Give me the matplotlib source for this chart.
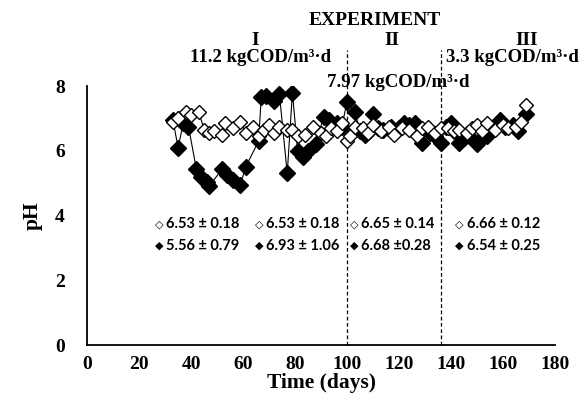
import matplotlib
matplotlib.use('Agg')
import matplotlib.pyplot as plt

# filled diamonds
days_f = [33, 35, 37, 39, 42, 44, 46, 47, 52, 54, 56, 59, 61, 66, 67, 69, 72, 74, 77, 79,
          81, 83, 85, 88, 91, 93, 96, 98, 100, 103, 105, 107, 109, 110, 112, 114, 117, 120,
          122, 124, 126, 129, 132, 134, 136, 138, 140, 142, 143, 145, 147, 150, 152, 154,
          156, 159, 161, 164, 166, 169]
ph_f = [6.95, 6.10, 6.85, 6.75, 5.45, 5.20, 5.05, 4.90, 5.45, 5.25, 5.10, 4.95, 5.50, 6.30,
        7.65, 7.70, 7.55, 7.75, 5.30, 7.80, 6.00, 5.80, 6.00, 6.20, 7.05, 6.95, 6.85, 6.75,
        7.50, 7.20, 6.60, 6.50, 6.65, 7.15, 6.70, 6.65, 6.75, 6.70, 6.85, 6.80, 6.85, 6.25,
        6.55, 6.45, 6.25, 6.75, 6.85, 6.55, 6.25, 6.40, 6.45, 6.20, 6.40, 6.45, 6.70, 6.95,
        6.75, 6.80, 6.60, 7.15]

# open diamonds
days_o = [33, 35, 38, 40, 43, 45, 47, 49, 52, 53, 56, 59, 61, 64, 66, 68, 70, 72, 74, 77,
          79, 81, 84, 87, 90, 92, 94, 96, 98, 100, 101, 103, 106, 108, 110, 113, 116, 118,
          121, 124, 127, 129, 131, 134, 136, 139, 141, 143, 146, 148, 150, 152, 154, 157,
          160, 162, 165, 167, 169]
ph_o = [6.90, 7.00, 7.20, 7.10, 7.20, 6.65, 6.55, 6.60, 6.50, 6.85, 6.70, 6.90, 6.55, 6.75,
        6.45, 6.65, 6.80, 6.55, 6.75, 6.65, 6.65, 6.45, 6.50, 6.75, 6.55, 6.45, 6.70, 6.60,
        6.85, 6.30, 6.45, 6.75, 6.70, 6.55, 6.80, 6.60, 6.75, 6.50, 6.70, 6.65, 6.45, 6.70,
        6.75, 6.55, 6.70, 6.70, 6.60, 6.65, 6.55, 6.70, 6.80, 6.60, 6.85, 6.65, 6.80, 6.70,
        6.75, 6.90, 7.40]

phase_bounds = [100, 136]
phase_names = ['I', 'II', 'III']
phase_x = [64.6, 117.3, 169.2]
loads = ['11.2 kgCOD/m³·d', '7.97 kgCOD/m³·d', '3.3 kgCOD/m³·d']
load_x = [66.9, 119.7, 163.5]
load_y = [8.74, 7.96, 8.74]
stats_open = ['6.53 ± 0.18', '6.53 ± 0.18', '6.65 ± 0.14', '6.66 ± 0.12']
stats_fill = ['5.56 ± 0.79', '6.93 ± 1.06', '6.68 ±0.28', '6.54 ± 0.25']
stats_x = [26, 64.5, 101, 141.5]

plt.rcParams['font.family'] = 'Liberation Serif'
plt.rcParams['font.weight'] = 'bold'

fig = plt.figure(figsize=(5.81, 4.04), dpi=100)
ax = fig.add_axes([0.15, 0.146, 0.805, 0.641])

ax.plot(days_f, ph_f, color='black', lw=0.8, marker='D', markersize=8,
        markerfacecolor='black', markeredgecolor='black', zorder=3)
ax.plot(days_o, ph_o, color='black', lw=0.8, marker='D', markersize=7.5,
        markerfacecolor='white', markeredgecolor='black', markeredgewidth=1.0, zorder=4)

for b in phase_bounds:
    ax.plot([b, b], [0, 9.1], color='black', lw=0.9, ls=(0, (3, 2)), clip_on=False, zorder=1)

ax.set_xlim(0, 180)
ax.set_ylim(0, 8)
ax.set_xticks(range(0, 181, 20))
ax.set_yticks(range(0, 9, 2))
ax.tick_params(length=0, labelsize=14)
ax.tick_params(axis='x', pad=8)
ax.tick_params(axis='y', pad=16)
for lab in ax.get_xticklabels() + ax.get_yticklabels():
    lab.set_fontweight('bold')
ax.spines['top'].set_visible(False)
ax.spines['right'].set_visible(False)
ax.spines['left'].set_linewidth(1.3)
ax.spines['bottom'].set_linewidth(1.3)
ax.set_xlabel('Time (days)', fontsize=15.5, fontweight='bold', labelpad=0)
ax.set_ylabel('pH', fontsize=15.5, fontweight='bold', labelpad=9)

ax.text(110.8, 9.88, 'EXPERIMENT', fontsize=14, fontweight='bold', ha='center',
        va='baseline', clip_on=False)
for name, xp in zip(phase_names, phase_x):
    ax.text(xp, 9.27, name, fontsize=14, fontweight='bold', ha='center', va='baseline',
            clip_on=False)
for lab, xp, yp in zip(loads, load_x, load_y):
    ax.text(xp, yp, lab, fontsize=13.5, fontweight='bold', ha='center', va='baseline',
            clip_on=False)

for xs, so, sf in zip(stats_x, stats_open, stats_fill):
    ax.text(xs, 3.73, '◇', fontsize=8, fontweight='bold', ha='left', va='center',
            family=['DejaVu Sans'])
    ax.text(xs + 4.5, 3.73, so, fontsize=10.5, fontweight='bold', ha='left', va='center',
            family=['Lato', 'DejaVu Sans'])
    ax.text(xs, 3.06, '◆', fontsize=8, fontweight='bold', ha='left', va='center',
            family=['DejaVu Sans'])
    ax.text(xs + 4.5, 3.06, sf, fontsize=10.5, fontweight='bold', ha='left', va='center',
            family=['Lato', 'DejaVu Sans'])

fig.savefig('out.png', dpi=100)
